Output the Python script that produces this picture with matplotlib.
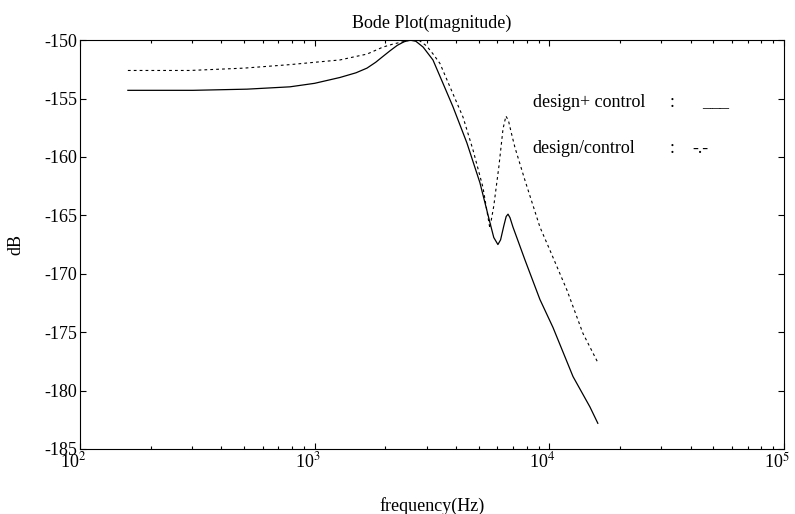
import numpy as np
import matplotlib
matplotlib.use("Agg")
import matplotlib.pyplot as plt
import matplotlib.transforms as mtransforms
from matplotlib.ticker import LogLocator, FixedLocator, NullFormatter

plt.rcParams['font.family'] = ['Liberation Serif', 'DejaVu Serif']
plt.rcParams['mathtext.fontset'] = 'stix'

# magnitude responses
f_plus = [160, 303, 515, 785, 1000, 1282, 1500, 1671, 1820, 1954, 2100, 2250,
          2400, 2547, 2700, 2900, 3193, 3523, 3885, 4455, 5061, 5582, 5800,
          6040, 6200, 6400, 6550, 6670, 6800, 7000, 7300, 7870, 9120, 10370,
          12620, 14900, 16100]
db_plus = [-154.3, -154.3, -154.2, -154.0, -153.7, -153.2, -152.8, -152.4,
           -151.9, -151.4, -150.9, -150.45, -150.15, -150.0, -150.1, -150.6,
           -151.7, -153.7, -155.7, -158.8, -162.2, -165.6, -166.9, -167.5,
           -167.1, -165.9, -165.1, -164.9, -165.2, -166.0, -167.0, -168.8,
           -172.2, -174.6, -178.8, -181.4, -182.8]

f_div = [160, 294, 500, 785, 1000, 1282, 1500, 1671, 1954, 2150, 2310, 2500,
         2650, 2800, 3000, 3200, 3420, 3773, 4290, 4730, 5215, 5580, 5800,
         6100, 6350, 6535, 6700, 6900, 7140, 7875, 9120, 10070, 11890, 13910,
         16100]
db_div = [-152.6, -152.6, -152.4, -152.1, -151.9, -151.7, -151.4, -151.2,
          -150.6, -150.35, -150.2, -150.05, -150.0, -150.05, -150.5, -151.2,
          -152.0, -154.0, -156.6, -159.4, -162.6, -166.1, -164.2, -160.8,
          -157.6, -156.5, -156.9, -158.0, -159.2, -162.0, -166.0, -168.0,
          -171.4, -175.1, -177.6]

yticks = [-150, -155, -160, -165, -170, -175, -180, -185]
xticks = [1e2, 1e3, 1e4, 1e5]
xticklabels = ['10$^2$', '10$^3$', '10$^4$', '10$^5$']

fig = plt.figure(figsize=(7.95, 5.14), dpi=100)
ax = fig.add_axes([0.1006, 0.1265, 0.8855, 0.7955])

ax.semilogx(f_plus, db_plus, color='black', lw=0.9)
ax.semilogx(f_div, db_div, color='black', lw=0.8, dashes=(2.5, 2.8))

ax.set_xlim(1e2, 1e5)
ax.set_ylim(-185, -150)
ax.set_xticks(xticks)
ax.set_xticklabels(xticklabels)
ax.xaxis.set_minor_locator(LogLocator(base=10, subs=np.arange(2, 10)))
ax.xaxis.set_minor_formatter(NullFormatter())
ax.yaxis.set_major_locator(FixedLocator(yticks))
ax.set_yticklabels([str(v) for v in yticks])

ax.tick_params(which='both', direction='in', top=True, right=True,
               labelsize=13, width=0.8)
ax.tick_params(which='major', length=4, pad=2)
ax.tick_params(which='minor', length=2.5)
for s in ax.spines.values():
    s.set_linewidth(0.8)

# nudge the decade labels a little to the left
shift = mtransforms.ScaledTranslation(-5 / 72, 0, fig.dpi_scale_trans)
for lab in ax.get_xticklabels():
    lab.set_transform(lab.get_transform() + shift)

ax.set_title('Bode Plot(magnitude)', fontsize=13, pad=9)
ax.set_xlabel('frequency(Hz)', fontsize=13, labelpad=18)
ax.set_ylabel('dB', fontsize=13, labelpad=14)

# hand-written legend
ax.text(0.643, 0.848, 'design+ control', transform=ax.transAxes,
        fontsize=13, va='center')
ax.text(0.838, 0.848, ':', transform=ax.transAxes, fontsize=13, va='center')
ax.text(0.884, 0.848, '___', transform=ax.transAxes, fontsize=13, va='center')
ax.text(0.643, 0.736, 'design/control', transform=ax.transAxes,
        fontsize=13, va='center')
ax.text(0.838, 0.736, ':', transform=ax.transAxes, fontsize=13, va='center')
ax.text(0.870, 0.736, '-.-', transform=ax.transAxes, fontsize=13, va='center')

fig.savefig('out.png', dpi=100)
